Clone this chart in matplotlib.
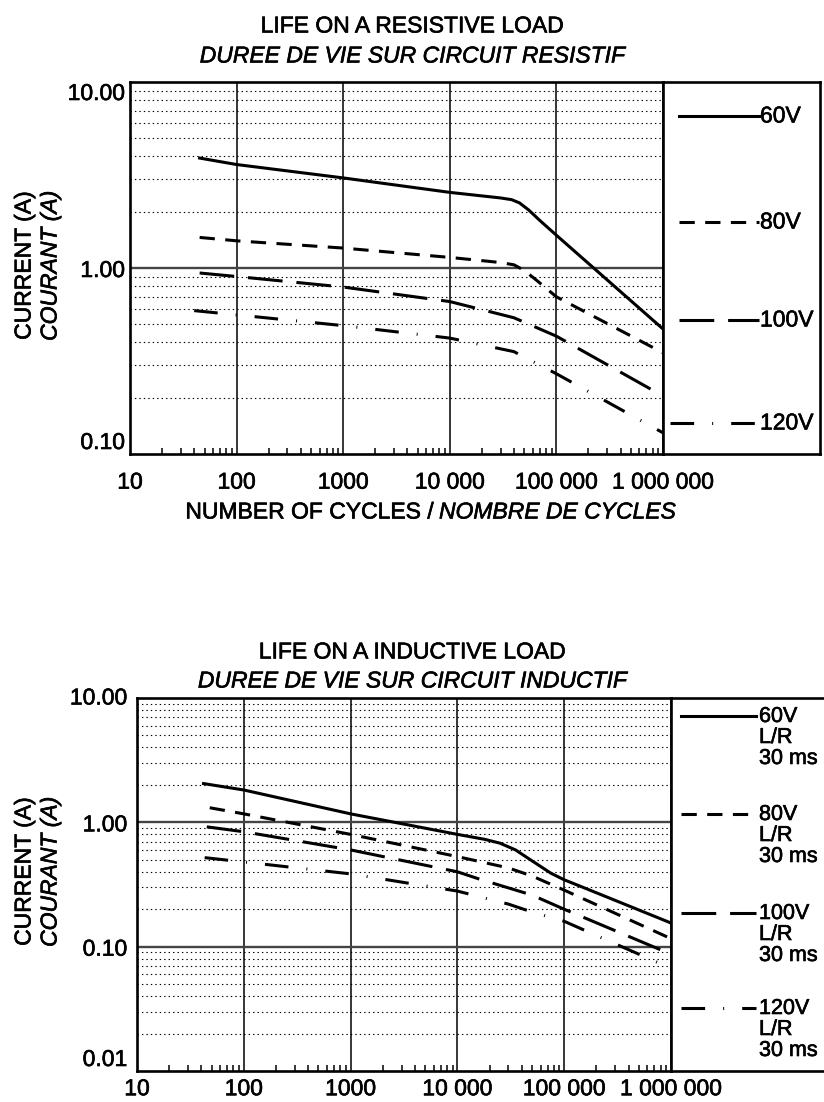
import numpy as np
import matplotlib
matplotlib.use("Agg")
from matplotlib import pyplot as plt
from matplotlib import patheffects
from matplotlib.ticker import FixedLocator, NullFormatter, NullLocator

plt.rcParams['font.family'] = ['Liberation Sans', 'DejaVu Sans']
plt.rcParams['lines.scale_dashes'] = False
fs = 16.5
bold_fx = [patheffects.withStroke(linewidth=0.45, foreground="k")]

# --- data (cycles, current in A) ---
series = ["60V", "80V", "100V", "120V"]

# resistive load
res_60_x = [45, 100, 1000, 10000, 30000, 38000, 45000, 55000, 70000, 100000, 1000000]
res_60_y = [3.9, 3.6, 3.05, 2.55, 2.38, 2.33, 2.24, 2.05, 1.8, 1.5, 0.47]
res_80_x = [45, 100, 1000, 10000, 30000, 40000, 50000, 65000, 100000, 1000000]
res_80_y = [1.46, 1.40, 1.28, 1.14, 1.07, 1.04, 0.97, 0.86, 0.70, 0.35]
res_100_x = [45, 100, 1000, 10000, 40000, 100000, 1000000]
res_100_y = [0.94, 0.90, 0.79, 0.66, 0.54, 0.43, 0.205]
res_120_x = [40, 100, 1000, 10000, 40000, 100000, 1000000]
res_120_y = [0.59, 0.56, 0.49, 0.42, 0.355, 0.27, 0.13]

# inductive load
ind_60_x = [42, 100, 1000, 10000, 18000, 25000, 35000, 50000, 75000, 100000, 150000, 1000000]
ind_60_y = [2.05, 1.82, 1.17, 0.80, 0.73, 0.68, 0.60, 0.49, 0.39, 0.345, 0.30, 0.155]
ind_80_x = [48, 100, 1000, 10000, 30000, 50000, 100000, 1000000]
ind_80_y = [1.31, 1.17, 0.80, 0.53, 0.43, 0.37, 0.285, 0.116]
ind_100_x = [45, 100, 1000, 10000, 16000, 50000, 100000, 1000000]
ind_100_y = [0.92, 0.84, 0.60, 0.40, 0.35, 0.26, 0.20, 0.087]
ind_120_x = [43, 100, 1000, 10000, 30000, 50000, 100000, 250000, 1000000]
ind_120_y = [0.52, 0.48, 0.385, 0.28, 0.22, 0.19, 0.16, 0.113, 0.067]

x_ticks = [10, 100, 1000, 10000, 100000, 1000000]
x_ticklabels = ["10", "100", "1000", "10 000", "100 000", "1 000 000"]
res_yticks = [0.1, 1, 10]
res_yticklabels = ["0.10", "1.00", "10.00"]
ind_yticks = [0.01, 0.1, 1, 10]
ind_yticklabels = ["0.01", "0.10", "1.00", "10.00"]

# --- styles ---
lw = 2.2
styles = {
    "60V": dict(ls="-"),
    "80V": dict(dashes=(11, 7.5)),
    "100V": dict(dashes=(25, 10)),
    "120V": dict(dashes=(17, 13, 0.7, 13)),
}

W, H = 824, 1102
fig = plt.figure(figsize=(W / 100, H / 100), dpi=100)


def box(l, t, r, b):
    return [l / W, 1 - b / H, (r - l) / W, (b - t) / H]


def ftext(x, y, s, **kw):
    fig.text(x / W, 1 - y / H, s, fontsize=fs, path_effects=bold_fx, **kw)


def setup(ax, ylo, yhi, yticks, ylabels, xpad, ypad):
    ax.set_xscale("log")
    ax.set_yscale("log")
    ax.set_xlim(10, 1e6)
    ax.set_ylim(ylo, yhi)
    for d in x_ticks[1:-1]:
        ax.axvline(d, color="k", lw=1.1, zorder=1)
    dec = ylo
    while dec < yhi:
        for k in range(2, 10):
            ax.axhline(k * dec, color="k", lw=0.8, ls=(0, (1, 2.2)), zorder=1)
        if dec > ylo:
            ax.axhline(dec, color="#444444", lw=1.7, zorder=1)
        dec *= 10
    for s in ax.spines.values():
        s.set_linewidth(1.9)
    ax.xaxis.set_major_locator(FixedLocator(x_ticks))
    ax.set_xticklabels(x_ticklabels)
    ax.xaxis.set_minor_locator(FixedLocator(
        [k * d for d in x_ticks[:-1] for k in range(2, 10)]))
    ax.xaxis.set_minor_formatter(NullFormatter())
    ax.tick_params(axis="x", which="major", length=0, pad=xpad, labelsize=fs)
    ax.tick_params(axis="x", which="minor", direction="in", length=4, width=1.1)
    ax.set_yticks(yticks, ylabels)
    ax.yaxis.set_minor_locator(NullLocator())
    ax.tick_params(axis="y", which="both", length=0, pad=ypad, labelsize=fs)
    labs = ax.get_yticklabels()
    labs[0].set_verticalalignment("bottom")
    labs[-1].set_verticalalignment("top")
    for t in ax.get_xticklabels() + labs:
        t.set_path_effects(bold_fx)


# ================= resistive load =================
ax1 = fig.add_axes(box(130, 82, 663, 454))
setup(ax1, 0.1, 10, res_yticks, res_yticklabels, 12, 3.6)
ax1.plot(res_60_x, res_60_y, color="k", lw=lw, **styles["60V"])
ax1.plot(res_80_x, res_80_y, color="k", lw=lw, **styles["80V"])
ax1.plot(res_100_x, res_100_y, color="k", lw=lw, **styles["100V"])
ax1.plot(res_120_x, res_120_y, color="k", lw=lw, **styles["120V"])

leg1 = fig.add_axes(box(663, 82, 820, 454))
leg1.set_xlim(663, 820)
leg1.set_ylim(454, 82)
leg1.set_xticks([])
leg1.set_yticks([])
for s in leg1.spines.values():
    s.set_linewidth(1.9)
for name, y, x0 in zip(series, [116, 222, 320, 423], [679, 679, 679, 670]):
    leg1.plot([x0, 759], [y, y], color="k", lw=lw, **styles[name])
    leg1.text(760, y, name, fontsize=fs, va="center", ha="left",
              path_effects=bold_fx)

ftext(412, 26, "LIFE ON A RESISTIVE LOAD", ha="center", va="center")
ftext(412, 56, "DUREE DE VIE SUR CIRCUIT RESISTIF", ha="center", va="center",
      style="italic")
ftext(24, 266, "CURRENT (A)", ha="center", va="center", rotation=90)
ftext(50, 266, "COURANT (A)", ha="center", va="center", rotation=90,
      style="italic")
ftext(433, 512, "NUMBER OF CYCLES /", ha="right", va="center")
ftext(439, 512, "NOMBRE DE CYCLES", ha="left", va="center", style="italic")

# ================= inductive load =================
ax2 = fig.add_axes(box(137, 698, 671, 1071))
setup(ax2, 0.01, 10, ind_yticks, ind_yticklabels, 4.5, 7)
ax2.get_yticklabels()[-1].set_verticalalignment("center")
ax2.plot(ind_60_x, ind_60_y, color="k", lw=lw, **styles["60V"])
ax2.plot(ind_80_x, ind_80_y, color="k", lw=lw, **styles["80V"])
ax2.plot(ind_100_x, ind_100_y, color="k", lw=lw, **styles["100V"])
ax2.plot(ind_120_x, ind_120_y, color="k", lw=lw, **styles["120V"])

leg2 = fig.add_axes(box(671, 698, 824, 1071))
leg2.set_xlim(671, 824)
leg2.set_ylim(1071, 698)
leg2.set_xticks([])
leg2.set_yticks([])
leg2.spines["right"].set_visible(False)
for s in leg2.spines.values():
    s.set_linewidth(1.9)
for name, y in zip(series, [716, 814, 913, 1008]):
    leg2.plot([681, 756], [y, y], color="k", lw=lw, **styles[name])
    leg2.text(759, y - 10, name + "\nL/R\n30 ms", fontsize=15.5, va="top",
              ha="left", linespacing=1.0, path_effects=bold_fx)

ftext(412, 652, "LIFE ON A INDUCTIVE LOAD", ha="center", va="center")
ftext(412, 681, "DUREE DE VIE SUR CIRCUIT INDUCTIF", ha="center", va="center",
      style="italic")
ftext(24, 872, "CURRENT (A)", ha="center", va="center", rotation=90)
ftext(50, 872, "COURANT (A)", ha="center", va="center", rotation=90,
      style="italic")

fig.savefig("out.png", dpi=100)
